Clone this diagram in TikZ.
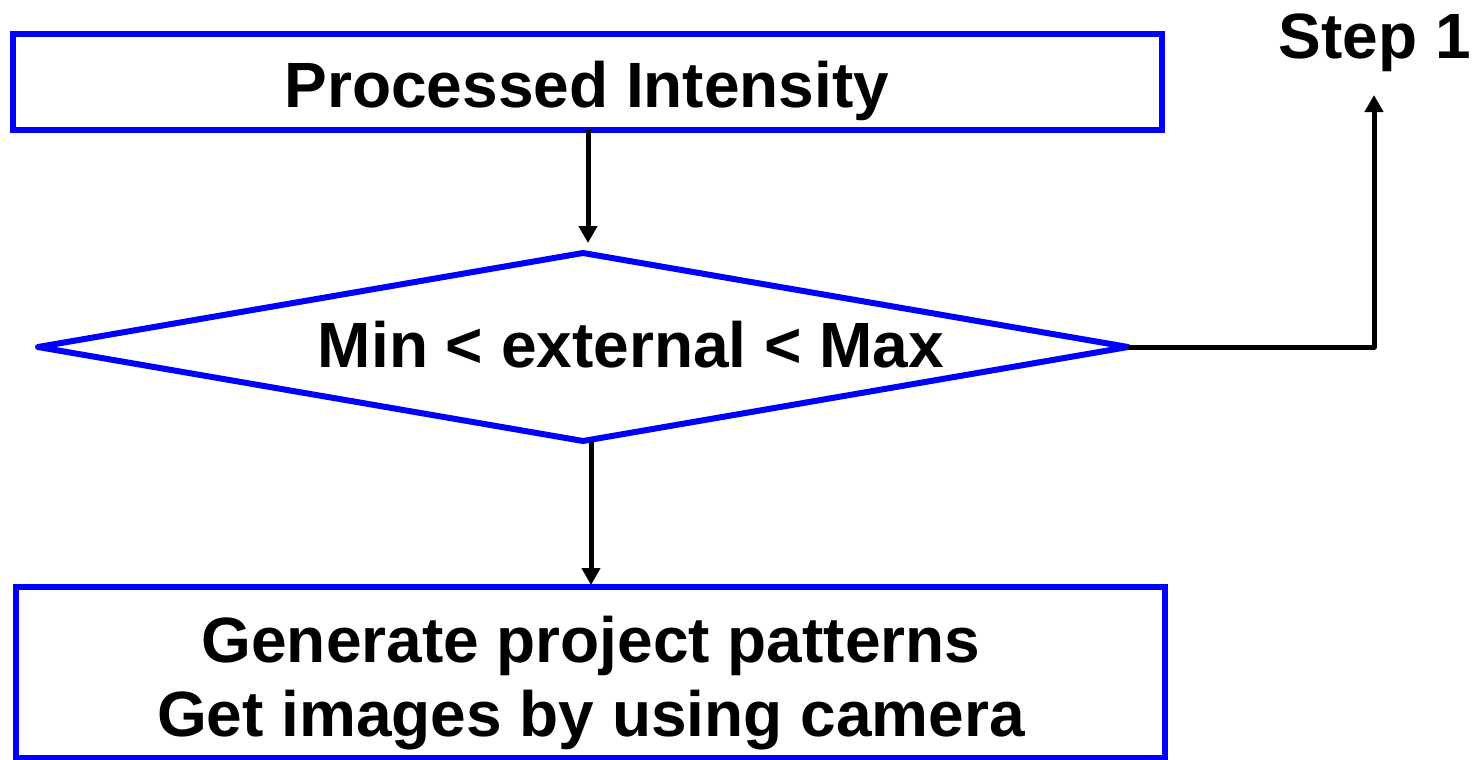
\documentclass[tikz,border=0pt]{standalone}
\usepackage{fontspec}
\setmainfont{Liberation Sans}
\usetikzlibrary{arrows.meta,shapes.geometric}
\definecolor{boxblue}{RGB}{0,0,255}
\begin{document}
\begin{tikzpicture}[x=1pt,y=-1pt,
  box/.style={draw=boxblue,line width=6pt,rectangle,inner sep=0pt,outer sep=0pt},
  decision/.style={draw=boxblue,line width=6pt,diamond,line join=round,inner sep=0pt,outer sep=0pt},
  lbl/.style={font=\fontsize{64}{74}\selectfont\bfseries,inner sep=0pt,anchor=base},
  arr/.style={line width=5pt,line join=round,-{Triangle[width=18pt,length=17pt]}}]
\useasboundingbox (0,0) rectangle (1476,760);

% shapes
\node[box,minimum width=1149pt,minimum height=96pt] (top) at (587.5,82) {};
\node[decision,minimum width=1090pt,minimum height=188pt] (dia) at (583,347) {};
\node[box,minimum width=1149pt,minimum height=171pt] (bot) at (590.5,672.5) {};

% texts
\node[lbl] (toptext) at (587,107) {Processed Intensity};
\node[lbl] (diatext) at (631,367) {Min < external < Max};
\node[lbl] (bottext1) at (591,662) {Generate project patterns};
\node[lbl] (bottext2) at (591,736) {Get images by using camera};
\node[lbl] (step) at (1375,59) {Step 1};
\coordinate (stepin) at (1374,95);

% connectors
\draw[arr] ([xshift=0.5pt]top.south) -- ([xshift=5pt]dia.north) [shorten >=10pt];
\draw[arr,shorten >=2pt] ([xshift=8pt]dia.south) -- ([xshift=8pt]dia.south |- bot.north);
\draw[arr] (dia.east) -| (stepin);
\end{tikzpicture}
\end{document}
